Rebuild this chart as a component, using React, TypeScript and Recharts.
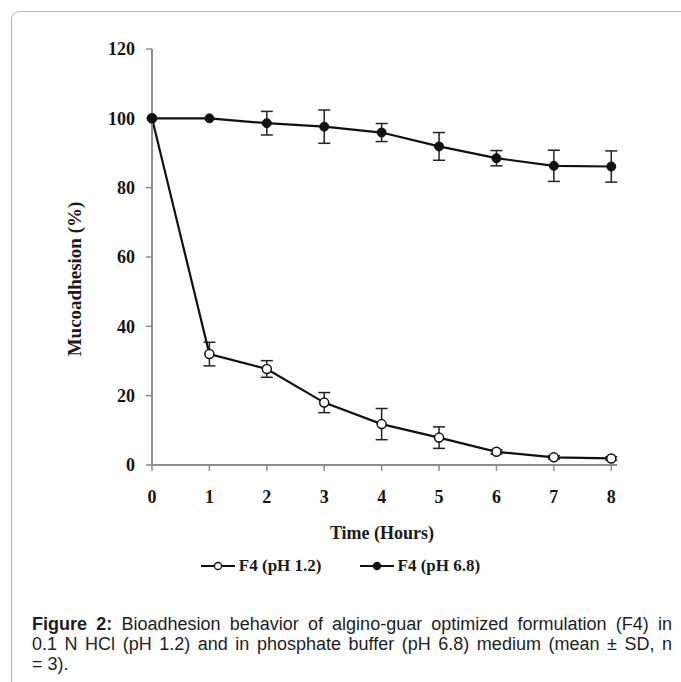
import React from 'react';
import { LineChart, Line, XAxis, YAxis, ErrorBar, Legend } from 'recharts';

// hours of sampling
const hours = [0, 1, 2, 3, 4, 5, 6, 7, 8];
// F4 in 0.1 N HCl (pH 1.2)
const acidMean = [100, 32, 27.7, 18, 11.8, 7.9, 3.8, 2.2, 1.9];
const acidSd = [0, 3.4, 2.4, 2.9, 4.5, 3.1, 0.6, 0.5, 0.5];
// F4 in phosphate buffer (pH 6.8)
const bufferMean = [100, 100, 98.6, 97.6, 95.9, 91.9, 88.5, 86.3, 86.1];
const bufferSd = [0, 0, 3.4, 4.8, 2.6, 4, 2.2, 4.5, 4.5];
const yTicks = [0, 20, 40, 60, 80, 100, 120];

const data = hours.map((h, i) => ({
  h,
  acid: acidMean[i],
  acidErr: acidSd[i],
  buffer: bufferMean[i],
  bufferErr: bufferSd[i],
}));

const SERIF = '"Liberation Serif", "Times New Roman", serif';
const AXIS = '#8c8c8c';

const tickStyle = { fill: '#151515', fontSize: 18, fontWeight: 700, fontFamily: SERIF };

const LegendContent = () => {
  const item = (filled: boolean, text: string) => (
    <div style={{ display: 'flex', alignItems: 'center', gap: 4 }}>
      <svg width={34} height={12}>
        <line x1={0} y1={6} x2={34} y2={6} stroke="#111" strokeWidth={2} />
        <circle cx={17} cy={6} r={3.5} fill={filled ? '#111' : '#fff'} stroke="#111" strokeWidth={1.3} />
      </svg>
      <span>{text}</span>
    </div>
  );
  return (
    <div style={{
      display: 'flex', justifyContent: 'center', gap: 38, height: 20, lineHeight: '20px',
      fontFamily: SERIF, fontWeight: 700, fontSize: 17, color: '#1a1a1a',
    }}>
      {item(false, 'F4 (pH 1.2)')}
      {item(true, 'F4 (pH 6.8)')}
    </div>
  );
};

export default function App() {
  return (
    <div style={{ position: 'absolute', left: 0, top: 0, width: 681, height: 682, overflow: 'hidden', background: '#fff' }}>
      <div style={{
        position: 'absolute', left: 11, top: 11, width: 720, height: 720,
        border: '1.5px solid #b8b8b8', borderRadius: 8, boxSizing: 'border-box',
      }} />
      <div style={{ position: 'absolute', left: 0, top: 0 }}>
        <LineChart width={681} height={600} data={data} margin={{ top: 49, right: 64, left: 92, bottom: 75 }}>
          <XAxis
            dataKey="h" type="number" domain={[0, 8.1]} ticks={hours}
            height={40} tick={tickStyle} tickSize={6} tickMargin={19}
            axisLine={{ stroke: AXIS, strokeWidth: 2 }} tickLine={{ stroke: AXIS, strokeWidth: 1.5 }}
            allowDecimals={false}
          />
          <YAxis
            type="number" domain={[0, 120]} ticks={yTicks} width={60}
            tick={tickStyle} tickSize={6} tickMargin={11}
            axisLine={{ stroke: AXIS, strokeWidth: 2 }} tickLine={{ stroke: AXIS, strokeWidth: 1.5 }}
          />
          <Legend content={<LegendContent />} wrapperStyle={{ top: 556, left: 0, width: 681 }} />
          <Line
            dataKey="acid" name="F4 (pH 1.2)" stroke="#111" strokeWidth={2.2}
            dot={{ r: 4.5, fill: '#fff', stroke: '#111', strokeWidth: 1.5 }}
            isAnimationActive={false}
          >
            <ErrorBar dataKey="acidErr" width={6} stroke="#222" strokeWidth={1.5} />
          </Line>
          <Line
            dataKey="buffer" name="F4 (pH 6.8)" stroke="#111" strokeWidth={2.2}
            dot={{ r: 4.5, fill: '#111', stroke: '#111', strokeWidth: 1 }}
            isAnimationActive={false}
          >
            <ErrorBar dataKey="bufferErr" width={6} stroke="#222" strokeWidth={1.5} />
          </Line>
        </LineChart>
      </div>
      <div style={{
        position: 'absolute', left: 382 - 100, top: 523, width: 200, textAlign: 'center',
        fontFamily: SERIF, fontWeight: 700, fontSize: 18, color: '#1a1a1a',
      }}>Time (Hours)</div>
      <div style={{
        position: 'absolute', left: 75 - 100, top: 279 - 12, width: 200, height: 24, lineHeight: '24px',
        textAlign: 'center', transform: 'rotate(-90deg)',
        fontFamily: SERIF, fontWeight: 700, fontSize: 19, color: '#1a1a1a',
      }}>Mucoadhesion (%)</div>
      <div style={{
        position: 'absolute', left: 32, top: 614, width: 640,
        fontFamily: '"Liberation Sans", Arial, sans-serif', fontSize: 18, lineHeight: '20px', color: '#1e1e1e',
      }}>
        <div style={{ textAlign: 'justify', textAlignLast: 'justify' }}>
          <b>Figure 2:</b> Bioadhesion behavior of algino-guar optimized formulation (F4) in
        </div>
        <div style={{ textAlign: 'justify', textAlignLast: 'justify' }}>
          0.1 N HCl (pH 1.2) and in phosphate buffer (pH 6.8) medium (mean ± SD, n
        </div>
        <div>= 3).</div>
      </div>
    </div>
  );
}
